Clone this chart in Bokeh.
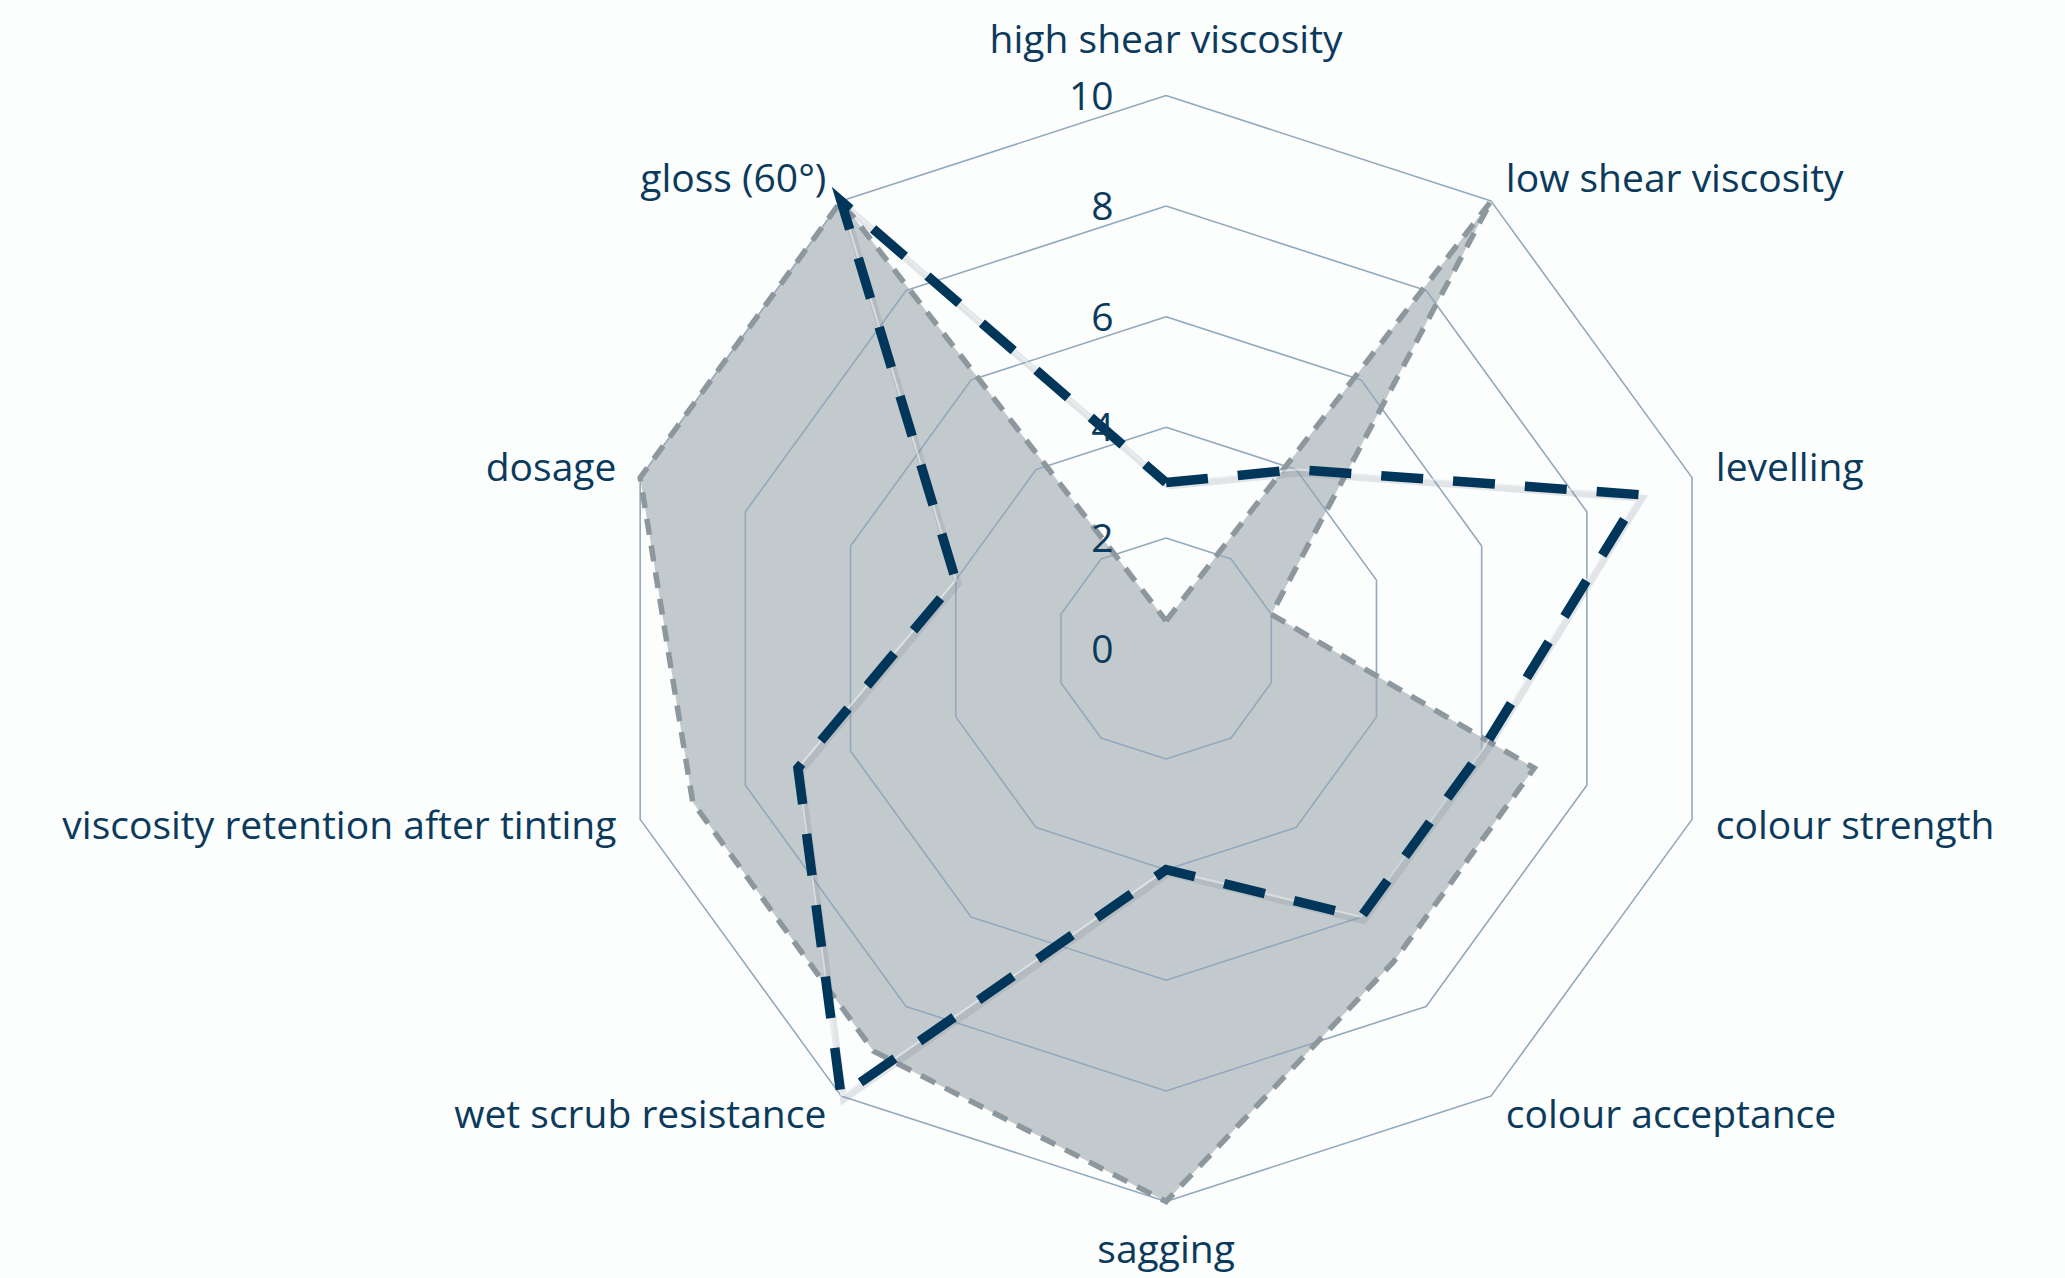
import numpy as np
from bokeh.plotting import figure
from bokeh.models import Range1d
from bokeh.core.properties import value
from bokeh.embed import file_html
from bokeh.resources import INLINE

# Radar axes, clockwise from the top
categories = [
    "high shear viscosity",
    "low shear viscosity",
    "levelling",
    "colour strength",
    "colour acceptance",
    "sagging",
    "wet scrub resistance",
    "viscosity retention after tinting",
    "dosage",
    "gloss (60°)",
]

# Filled reference profile (grey) and compared product (dark dashed)
reference_values = [0.5, 10, 2, 7, 7, 10, 9, 9, 10, 10]
product_values = [3, 4, 9, 6, 6, 4, 10, 7, 4, 10]

ring_levels = [2, 4, 6, 8, 10]
tick_labels = ["0", "2", "4", "6", "8", "10"]
tick_values = [0, 2, 4, 6, 8, 10]

W, H = 2065, 1278
CX, CY = 1165.6, 648.0      # pixel position of the centre
PX = 55.3                   # pixels per value unit
FONT = "Open Sans"
FONT_SIZE = "39px"
TEXT_COLOR = "#0b3a5c"

n = len(categories)
angles = np.arange(n) * 2 * np.pi / n  # 0 = up, clockwise


def polar(vals):
    v = np.asarray(vals, dtype=float)
    return v * np.sin(angles), v * np.cos(angles)


p = figure(
    width=W, height=H,
    x_range=Range1d(-CX / PX, (W - CX) / PX),
    y_range=Range1d(-(H - CY) / PX, CY / PX),
    output_backend="svg", toolbar_location=None, min_border=0,
)
p.axis.visible = False
p.grid.visible = False
p.outline_line_color = None
p.background_fill_color = "#fcfdfd"
p.border_fill_color = "#fcfdfd"

# Grey filled profile
rx, ry = polar(reference_values)
p.patch(list(rx), list(ry), fill_color="#c3cace", fill_alpha=1.0, line_color=None)

# Concentric decagon grid, visible through the fill
for lvl in ring_levels:
    gx, gy = polar([lvl] * n)
    p.line(list(gx) + [gx[0]], list(gy) + [gy[0]],
           line_color="#93a9bb", line_width=1.6)

# Dashed outline of the grey profile
p.line(list(rx) + [rx[0]], list(ry) + [ry[0]],
       line_color="#8d979e", line_width=5.5, line_dash="16 11", line_join="miter")

# Dark dashed profile, with a faint soft shadow and light underline
dx, dy = polar(product_values)
lx = list(dx) + [dx[0]]
ly = list(dy) + [dy[0]]
p.line([x + 2.5 / PX for x in lx], [y - 3.5 / PX for y in ly],
       line_color="#6f7b84", line_alpha=0.18, line_width=7, line_join="miter")
p.line(lx, ly, line_color="#eef1f3", line_alpha=0.6, line_width=2, line_join="miter")
p.line(lx, ly, line_color="#00365a", line_width=9.5, line_dash="42 30",
       line_join="miter")

# Category labels placed just outside the outer ring
gap = 25 / PX
ox, oy = polar([10] * n)
for i, name in enumerate(categories):
    s, c = np.sin(angles[i]), np.cos(angles[i])
    x = ox[i] + gap * s
    y = oy[i] + gap * c
    if abs(s) < 1e-6:
        align = "center"
        if c > 0:
            baseline = "bottom"
            y += 7 / PX
        else:
            baseline = "top"
            y += 6 / PX
    else:
        align = "left" if s > 0 else "right"
        baseline = "middle"
        y += 4 / PX
    p.text([x], [y], text=[name], text_align=align, text_baseline=baseline,
           text_font=value(FONT), text_font_size=FONT_SIZE, text_color=TEXT_COLOR)

# Radial tick labels along the upper axis
p.text([-52.6 / PX] * len(tick_values), tick_values, text=tick_labels,
       text_align="right", text_baseline="middle",
       text_font=value(FONT), text_font_size=FONT_SIZE, text_color=TEXT_COLOR)

open("out.html", "w").write(file_html(p, INLINE))
